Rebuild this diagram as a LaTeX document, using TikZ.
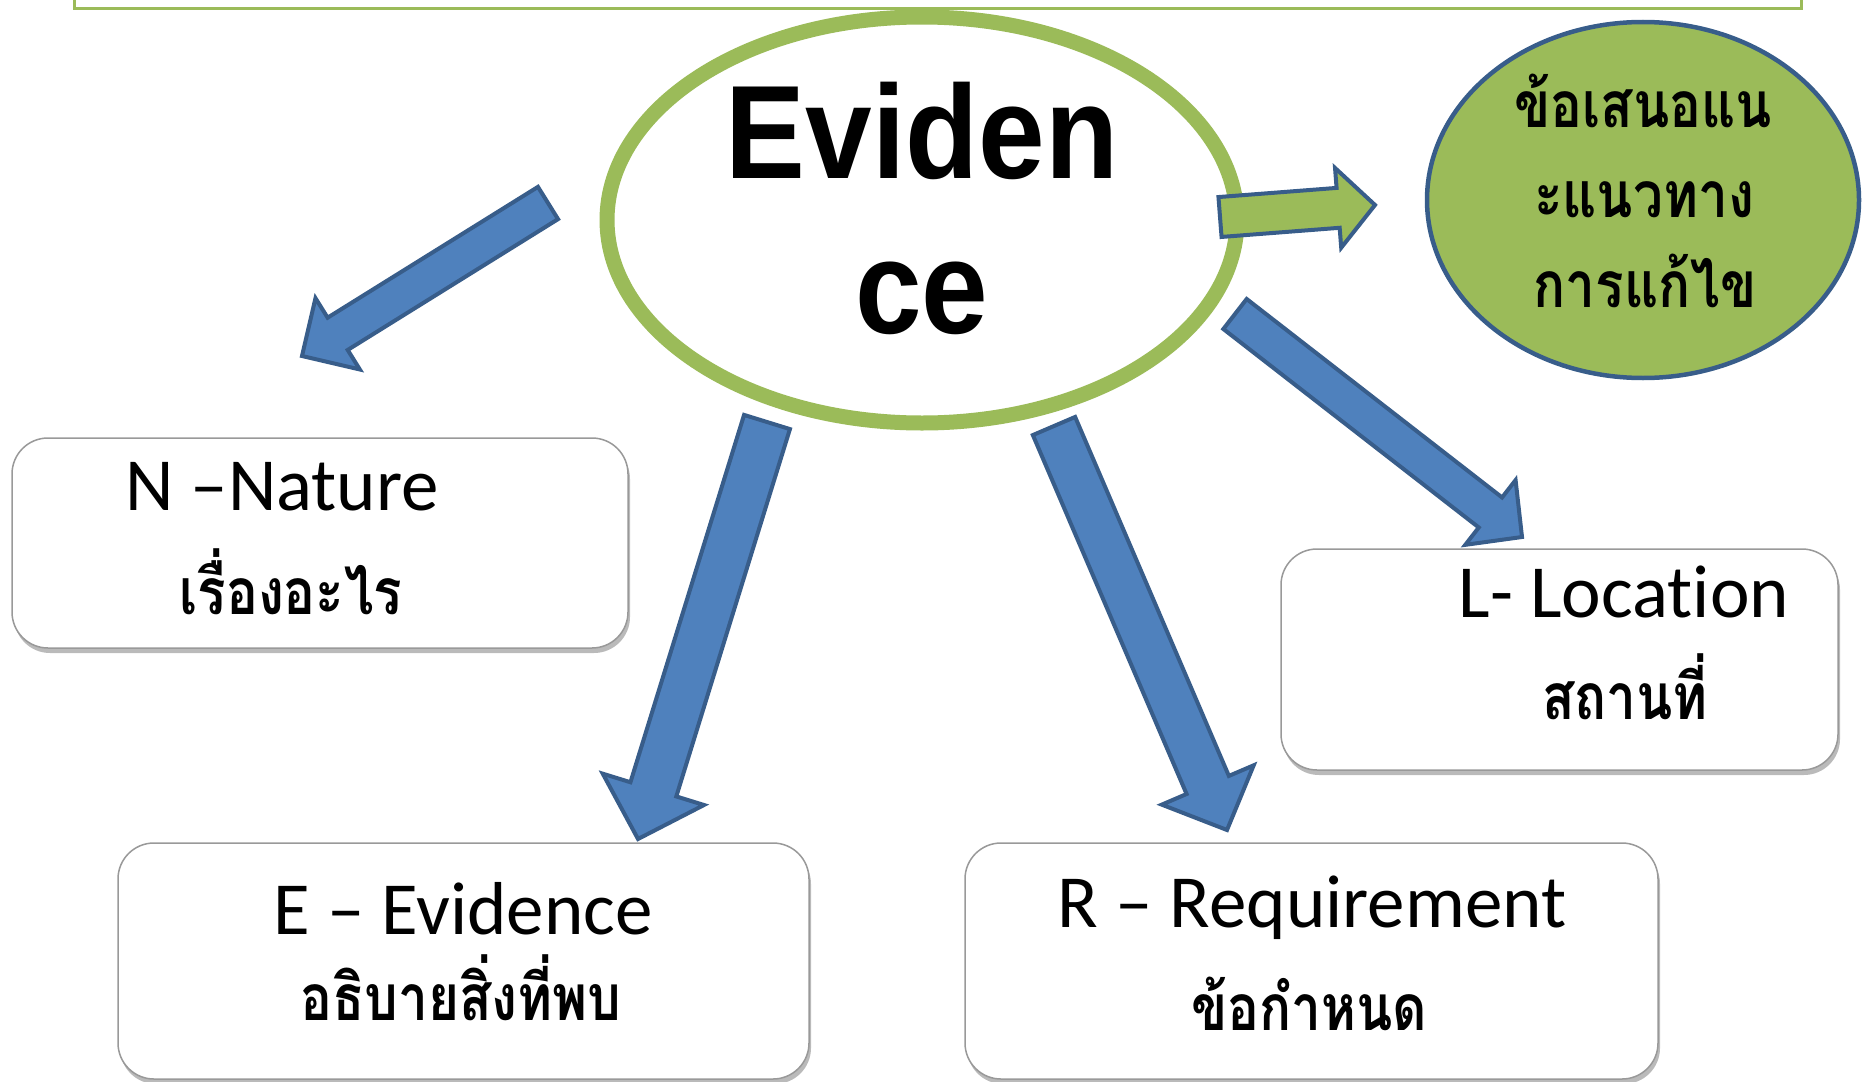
\documentclass[tikz,border=0pt]{standalone}
\usepackage{fontspec}
\usepackage{tikz}
\usetikzlibrary{shapes.geometric, shadows, calc}
\newfontfamily\thaifont[Script=Thai, FakeStretch=0.83]{Loma}
\newfontfamily\boxfont{Carlito}[Ligatures=NoCommon]
\newfontfamily\evfont{Liberation Sans}[FakeStretch=0.9]
\definecolor{leafgreen}{RGB}{155, 187, 89}
\definecolor{arrowblue}{RGB}{79, 129, 189}
\definecolor{edgeblue}{RGB}{56, 93, 138}

% block arrow: style, tail, tip, shaft half width, head half width, head length
\newcommand{\blockarrow}[6]{%
  \coordinate (#3-base) at ($(#3)!#6!(#2)$);
  \draw[#1] ($(#2)!#4!90:(#3)$) -- ($(#3-base)!#4!90:(#3)$) -- ($(#3-base)!#5!90:(#3)$)
    -- (#3) -- ($(#3-base)!#5!-90:(#3)$) -- ($(#3-base)!#4!-90:(#3)$) -- ($(#2)!#4!-90:(#3)$) -- cycle;
}

\begin{document}
\begin{tikzpicture}[x=1pt, y=-1pt,
  infobox/.style={draw=black!40, line width=1.5pt, fill=white, rounded corners=36pt, inner sep=0pt,
    drop shadow={shadow xshift=2pt, shadow yshift=-5pt, opacity=0.45, fill=black!60}},
  bluearrow/.style={fill=arrowblue, draw=edgeblue, line width=4pt},
  greenarrow/.style={fill=leafgreen, draw=edgeblue, line width=4pt},
  evlabel/.style={font=\evfont\bfseries\fontsize{133}{155}\selectfont, inner sep=0pt, anchor=base},
  keylabel/.style={font=\boxfont\fontsize{75}{90}\selectfont, inner sep=0pt, anchor=base},
  thailabel/.style={font=\thaifont\bfseries\fontsize{64}{80}\selectfont, inner sep=0pt, anchor=base},
  sollabel/.style={font=\thaifont\bfseries\fontsize{64}{80}\selectfont, inner sep=0pt, anchor=base}]

  \useasboundingbox (0,0) rectangle (1862,1081);

  % frame edge at the top
  \draw[leafgreen, line width=3pt] (74,-5) -- (74,9) -- (1801,9) -- (1801,-5);

  % boxes
  \node[infobox, minimum width=616pt, minimum height=210pt] (nature) at (320,543) {};
  \node[infobox, minimum width=691pt, minimum height=236pt] (evbox) at (463.5,961) {};
  \node[infobox, minimum width=693pt, minimum height=236pt] (reqbox) at (1311.5,961) {};
  \node[infobox, minimum width=557pt, minimum height=221pt] (locbox) at (1559.5,659.5) {};

  \node[keylabel] (natureKey) at (282,510) {N –Nature};
  \node[thailabel] (natureThai) at (291,614) {เรื่องอะไร};
  \node[keylabel] (evKey) at (463,934) {E – Evidence};
  \node[thailabel] (evThai) at (461,1020) {อธิบายสิ่งที่พบ};
  \node[keylabel] (reqKey) at (1312,927) {R – Requirement};
  \node[thailabel] (reqThai) at (1309,1030) {ข้อกำหนด};
  \node[keylabel] (locKey) at (1624,617) {L- Location};
  \node[thailabel] (locThai) at (1625,719) {สถานที่};

  % centre and suggestion ellipses
  \node[ellipse, draw=leafgreen, line width=15pt, fill=white, inner sep=0pt,
    minimum width=630pt, minimum height=406pt] (evidence) at (922,220) {};
  \node[evlabel] (evTop) at (922,178) {Eviden};
  \node[evlabel] (evBottom) at (922,333) {ce};

  \node[ellipse, draw=edgeblue, line width=4.5pt, fill=leafgreen, inner sep=0pt,
    minimum width=432pt, minimum height=356pt] (solution) at (1643,200) {};
  \node[sollabel] (solLine1) at (1643,127) {ข้อเสนอแน};
  \node[sollabel] (solLine2) at (1644,217) {ะแนวทาง};
  \node[sollabel] (solLine3) at (1645,307) {การแก้ไข};

  % arrows
  \coordinate (natTail) at (548,203);
  \coordinate (natTip) at (302,356);
  \coordinate (evTail) at (767,422);
  \coordinate (evTip) at (638,839);
  \coordinate (reqTail) at (1054,426);
  \coordinate (reqTip) at (1227,830);
  \coordinate (locTail) at (1235,314);
  \coordinate (locTip) at (1522,537);
  \coordinate (solTail) at (1220,217);
  \coordinate (solTip) at (1375,205);

  \blockarrow{bluearrow}{natTail}{natTip}{19pt}{42pt}{42pt}
  \blockarrow{bluearrow}{evTail}{evTip}{24pt}{53pt}{52pt}
  \blockarrow{bluearrow}{reqTail}{reqTip}{23pt}{50pt}{49pt}
  \blockarrow{bluearrow}{locTail}{locTip}{19pt}{41pt}{40pt}
  \blockarrow{greenarrow}{solTail}{solTip}{20pt}{40pt}{37pt}
\end{tikzpicture}
\end{document}
